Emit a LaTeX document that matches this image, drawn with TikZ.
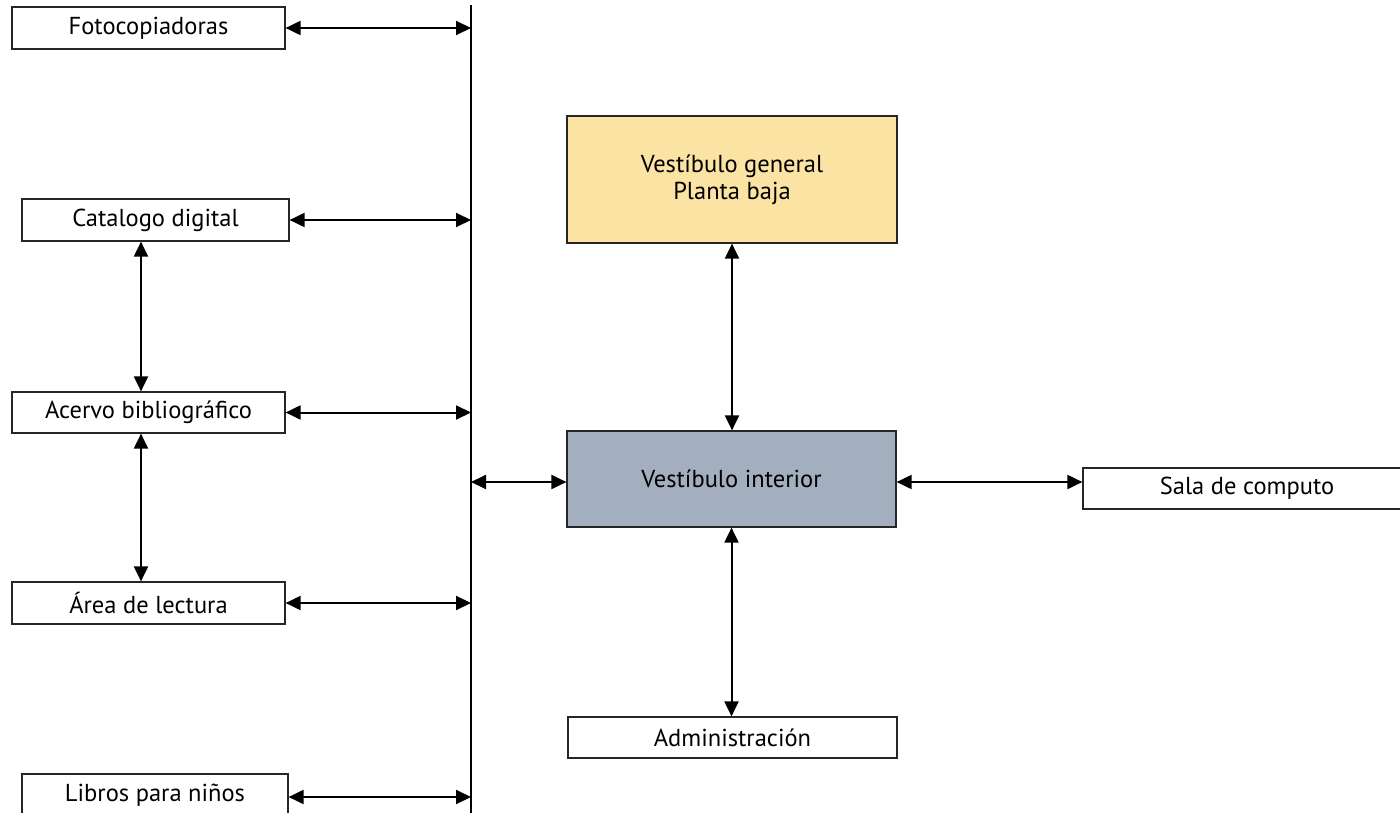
\documentclass[tikz,border=0pt]{standalone}
\usepackage{fontspec}
\setmainfont{PT Sans}
\usetikzlibrary{arrows.meta}
\begin{document}
\begin{tikzpicture}[x=1pt,y=-1pt,
  box/.style={draw=black!85, line width=1.2pt, fill=white, inner sep=0pt,
    font=\fontsize{24.5}{27}\selectfont, align=center},
  link/.style={line width=2pt, {Triangle[length=15pt,width=14pt]}-{Triangle[length=15pt,width=14pt]}}]
\clip (0,0) rectangle (1400,813);
\fill[white] (0,0) rectangle (1400,813);
% vertical corridor line
\coordinate (top) at (471,5);
\coordinate (bot) at (471,816);
\draw[line width=2.4pt] (top) -- (bot);
% left nodes
\node[box, minimum width=273pt, minimum height=42pt] (foto) at (148.5,28) {Fotocopiadoras};
\node[box, minimum width=267pt, minimum height=42pt] (cat) at (155.5,220) {Catalogo digital};
\node[box, minimum width=273pt, minimum height=41pt] (acervo) at (148.5,412.5) {Acervo bibliográfico};
\node[box, minimum width=273pt, minimum height=42pt] (area) at (148.5,603) {Área de lectura};
\node[box, minimum width=266pt, minimum height=42pt] (libros) at (155,795) {Libros para niños};
% central nodes
\node[box, fill={rgb,255:red,250;green,227;blue,163}, minimum width=330pt, minimum height=127pt] (gen) at (732,179.5) {Vestíbulo general\\Planta baja};
\node[box, fill={rgb,255:red,163;green,175;blue,191}, minimum width=329pt, minimum height=96pt] (int) at (731.5,479) {Vestíbulo interior};
\node[box, minimum width=329pt, minimum height=41pt] (adm) at (732.5,737.5) {Administración};
\node[box, minimum width=328pt, minimum height=41pt] (sala) at (1247,488.5) {Sala de computo};
% left horizontal arrows
\draw[link] (foto.east) -- (foto.east -| top);
\draw[link] (cat.east) -- (cat.east -| top);
\draw[link] (acervo.east) -- (acervo.east -| top);
\draw[link] (area.east) -- (area.east -| top);
\draw[link] ([yshift=-2pt]libros.east) -- ([yshift=-2pt]libros.east -| top);
% left vertical arrows
\coordinate (vx) at (141,0);
\draw[link] (cat.south -| vx) -- (acervo.north -| vx);
\draw[link] (acervo.south -| vx) -- (area.north -| vx);
% central arrows
\coordinate (j) at (471,482);
\draw[link] (j) -- (j -| int.west);
\draw[link] (int.east |- j) -- (sala.west |- j);
\draw[link] (gen.south) -- (gen.south |- int.north);
\draw[link] (int.south) -- (int.south |- adm.north);
\end{tikzpicture}
\end{document}
